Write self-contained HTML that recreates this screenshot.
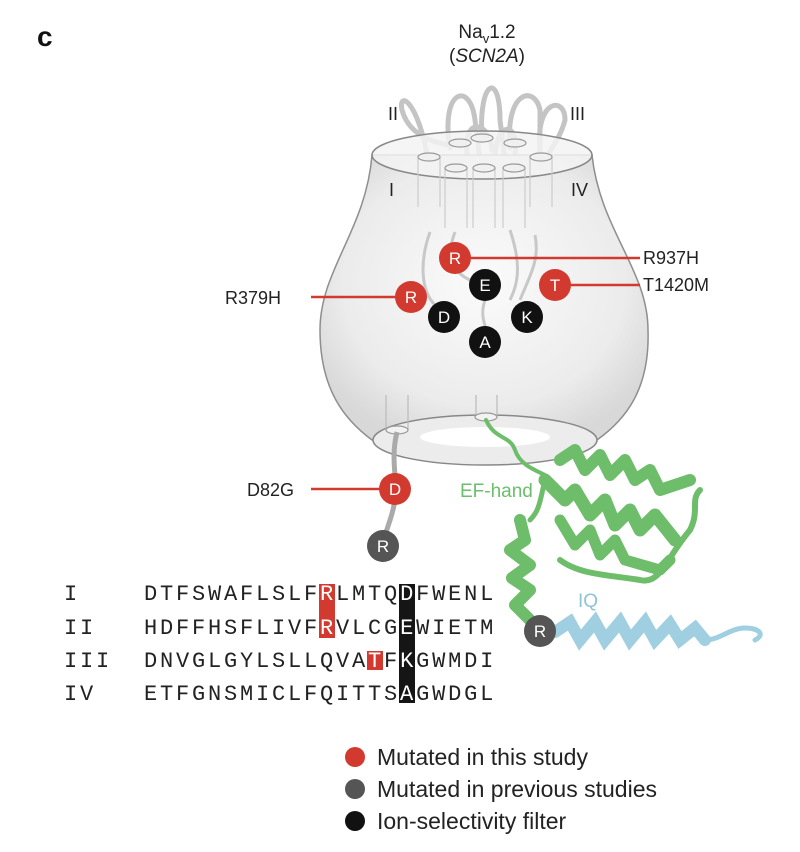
<!DOCTYPE html>
<html><head><meta charset="utf-8"><style>
html,body{margin:0;padding:0;background:#fff;}
svg{display:block;font-family:"Liberation Sans",sans-serif;}
.seq{font-family:"Liberation Mono",monospace;font-size:22px;fill:#222;letter-spacing:2.8px;}
</style></head><body>
<svg width="800" height="852" viewBox="0 0 800 852">
<defs>
<radialGradient id="bodyg" cx="0.5" cy="0.45" r="0.6">
<stop offset="0" stop-color="#fbfbfb"/><stop offset="0.7" stop-color="#ececec"/><stop offset="1" stop-color="#d6d6d6"/>
</radialGradient>
</defs>
<text x="37" y="46" font-size="28" font-weight="bold" fill="#111">c</text>
<text x="487" y="38" font-size="19" text-anchor="middle" fill="#222">Na<tspan font-size="13" dy="5">v</tspan><tspan dy="-5">1.2</tspan></text>
<text x="487" y="62" font-size="19" text-anchor="middle" fill="#222">(<tspan font-style="italic">SCN2A</tspan>)</text>
<g fill="none" stroke="#c4c4c4" stroke-width="5" stroke-linecap="round">
<path d="M428,160 C418,100 398,90 402,110 C410,140 445,145 452,145"/>
<path d="M450,148 C440,90 470,80 475,120 L480,160"/>
<path d="M482,140 C478,80 500,70 500,120 L505,160"/>
<path d="M510,148 C505,90 535,85 540,110 L540,160"/>
<path d="M540,150 C535,100 565,95 565,120 C560,140 548,150 548,158"/>
<path d="M468,160 C460,115 490,120 492,150"/>
<path d="M495,160 C495,120 520,120 515,155"/>
</g>
<path d="M372,155 C366,230 320,270 320,330 C320,390 345,420 372,440 L597,440 C625,420 650,390 648,330 C648,270 600,230 592,155 Z" fill="url(#bodyg)" stroke="#888" stroke-width="1.5" opacity="0.95"/>
<ellipse cx="482" cy="155" rx="110" ry="24" fill="#f3f3f3" fill-opacity="0.85" stroke="#888" stroke-width="1.5"/>
<g fill="#f0f0f0" stroke="#999" stroke-width="1.2">
<ellipse cx="460" cy="143" rx="11" ry="4"/><ellipse cx="482" cy="138" rx="11" ry="4"/><ellipse cx="515" cy="143" rx="11" ry="4"/>
<path d="M418,157 v50 M440,157 v50 M445,168 v60 M467,168 v60 M473,168 v60 M495,168 v60 M503,168 v60 M525,168 v60 M530,157 v50 M552,157 v50" fill="none" stroke="#ccc"/>
<ellipse cx="429" cy="157" rx="11" ry="4"/><ellipse cx="456" cy="168" rx="11" ry="4"/><ellipse cx="484" cy="168" rx="11" ry="4"/><ellipse cx="514" cy="168" rx="11" ry="4"/><ellipse cx="541" cy="157" rx="11" ry="4"/>
</g>
<g fill="none" stroke="#c8c8c8" stroke-width="3">
<path d="M430,232 C420,260 420,290 435,305"/><path d="M455,232 C448,250 448,270 470,280"/><path d="M510,230 C520,260 520,280 510,300"/><path d="M485,300 C478,320 490,330 485,335"/><path d="M535,235 C540,260 530,275 520,300"/>
</g>
<ellipse cx="485" cy="440" rx="112" ry="25" fill="#ececec" stroke="#888" stroke-width="1.5"/>
<ellipse cx="485" cy="437" rx="65" ry="10" fill="#fff"/>
<g fill="#f2f2f2" stroke="#999" stroke-width="1.2"><path d="M386,395 v35 M408,395 v35 M476,395 v22 M497,395 v22" fill="none" stroke="#bbb"/><ellipse cx="397" cy="430" rx="11" ry="4"/><ellipse cx="486" cy="417" rx="11" ry="4"/></g>
<text x="389" y="196" font-size="18" fill="#222">I</text>
<text x="388" y="120" font-size="18" fill="#222">II</text>
<text x="570" y="120" font-size="18" fill="#222">III</text>
<text x="571" y="196" font-size="18" fill="#222">IV</text>
<path d="M397,432 C390,460 398,480 395,500 C392,520 385,530 383,545" fill="none" stroke="#aaa" stroke-width="5"/>
<g fill="none" stroke="#6dbd6a" stroke-linecap="round" stroke-linejoin="round">
<path d="M486,420 C495,440 510,435 515,450 C520,465 535,470 545,475" stroke-width="4"/>
<path d="M560,460 L575,450 L585,470 L600,455 L610,475 L625,460 L635,480 L650,470 L660,490 L690,480" stroke-width="12"/>
<path d="M545,480 L565,500 L575,490 L590,515 L605,500 L615,525 L630,510 L640,530 L655,515 L675,540" stroke-width="13"/>
<path d="M560,520 L575,545 L590,530 L600,555 L615,540 L625,560 L660,570 L670,560" stroke-width="11"/>
<path d="M520,520 L525,540 L510,550 L530,565 L512,578 L530,590 L515,605 L530,620" stroke-width="12"/>
<path d="M560,560 C580,575 610,575 640,580 C660,585 665,560 690,530 C700,510 690,500 700,490" stroke-width="6"/>
<path d="M545,480 C540,500 540,510 530,520" stroke-width="5"/>
</g>
<text x="460" y="497" font-size="19" fill="#6cbd6c">EF-hand</text>
<g fill="none" stroke="#9fcfe0" stroke-linecap="round">
<path d="M555,632 L570,622 L580,640 L595,622 L605,640 L620,622 L630,640 L645,622 L655,640 L670,624 L680,640 L695,628 L705,640" stroke-width="12"/>
<path d="M705,640 C720,640 730,628 745,628 C760,628 765,635 755,640" stroke-width="5"/>
</g>
<text x="578" y="607" font-size="19" fill="#8fc3d6">IQ</text>
<g stroke="#d23a30" stroke-width="2.5">
<line x1="455" y1="258" x2="640" y2="258"/><line x1="555" y1="285" x2="640" y2="285"/><line x1="311" y1="297" x2="411" y2="297"/><line x1="311" y1="489" x2="395" y2="489"/>
</g>
<g font-size="18" fill="#222">
<text x="643" y="264">R937H</text>
<text x="643" y="291">T1420M</text>
<text x="225" y="304">R379H</text>
<text x="247" y="496">D82G</text>
</g>
<g font-size="17" fill="#fff" text-anchor="middle">
<g><circle cx="455" cy="258" r="16" fill="#d23a30"/><text x="455" y="264">R</text></g>
<g><circle cx="485" cy="285" r="16" fill="#111"/><text x="485" y="291">E</text></g>
<g><circle cx="555" cy="285" r="16" fill="#d23a30"/><text x="555" y="291">T</text></g>
<g><circle cx="411" cy="297" r="16" fill="#d23a30"/><text x="411" y="303">R</text></g>
<g><circle cx="444" cy="317" r="16" fill="#111"/><text x="444" y="323">D</text></g>
<g><circle cx="527" cy="317" r="16" fill="#111"/><text x="527" y="323">K</text></g>
<g><circle cx="485" cy="342" r="16" fill="#111"/><text x="485" y="348">A</text></g>
<g><circle cx="395" cy="489" r="16" fill="#d23a30"/><text x="395" y="495">D</text></g>
<g><circle cx="383" cy="546" r="16" fill="#555"/><text x="383" y="552">R</text></g>
<g><circle cx="540" cy="631" r="16" fill="#555"/><text x="540" y="637">R</text></g>
</g>
<g>
<rect x="319" y="584" width="16" height="54" fill="#d23a30"/>
<rect x="367" y="651" width="16" height="19" fill="#d23a30"/>
<rect x="399" y="584" width="16" height="119" fill="#151515"/>
<g class="seq">
<text x="64" y="600">I</text><text x="64" y="634">II</text><text x="64" y="667">III</text><text x="64" y="700">IV</text>
<text x="144" y="600">DTFSWAFLSLF<tspan fill="#fff">R</tspan>LMTQ<tspan fill="#fff">D</tspan>FWENL</text>
<text x="144" y="634">HDFFHSFLIVF<tspan fill="#fff">R</tspan>VLCG<tspan fill="#fff">E</tspan>WIETM</text>
<text x="144" y="667">DNVGLGYLSLLQVA<tspan fill="#fff">T</tspan>F<tspan fill="#fff">K</tspan>GWMDI</text>
<text x="144" y="700">ETFGNSMICLFQITTS<tspan fill="#fff">A</tspan>GWDGL</text>
</g>
</g>
<g font-size="23" fill="#222">
<g><circle cx="355" cy="757" r="10" fill="#d23a30"/><text x="377" y="765">Mutated in this study</text></g>
<g><circle cx="355" cy="789" r="10" fill="#555"/><text x="377" y="797">Mutated in previous studies</text></g>
<g><circle cx="355" cy="821" r="10" fill="#111"/><text x="377" y="829">Ion-selectivity filter</text></g>
</g>
</svg>
</body></html>
